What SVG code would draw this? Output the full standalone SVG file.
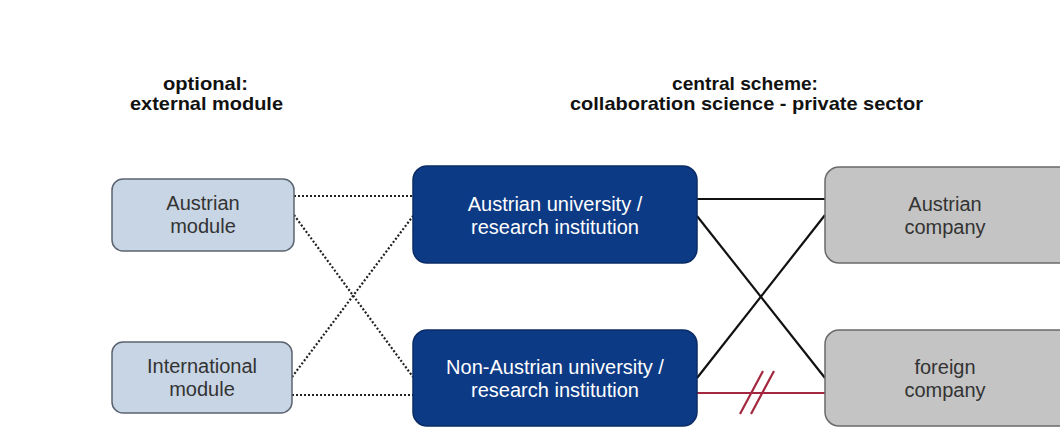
<svg xmlns="http://www.w3.org/2000/svg" width="1060" height="441" viewBox="0 0 1060 441">
<style>
.hdr{font-family:"Liberation Sans",Arial,sans-serif;font-weight:bold;font-size:18.5px;fill:#111;text-anchor:middle}
.lbl{font-family:"Liberation Sans",Arial,sans-serif;font-size:20px;fill:#333;text-anchor:middle}
.wlbl{font-family:"Liberation Sans",Arial,sans-serif;font-size:20px;fill:#fff;text-anchor:middle}
.mod{fill:#c8d5e4;stroke:#5b6470;stroke-width:1.5}
.uni{fill:#0d3a85;stroke:#0a2c66;stroke-width:1.5}
.comp{fill:#c4c4c4;stroke:#6a6a6a;stroke-width:1.5}
.dot{stroke:#222;stroke-width:2.2;stroke-dasharray:2 2;fill:none}
.sol{stroke:#111;stroke-width:2.2;fill:none}
.red{stroke:#a3283f;stroke-width:2.2;fill:none}
</style>
<rect width="1060" height="441" fill="#fff"/>
<g id="headers">
<text class="hdr" x="205.5" y="90" textLength="85" lengthAdjust="spacingAndGlyphs">optional:</text>
<text class="hdr" x="206.5" y="110" textLength="153" lengthAdjust="spacingAndGlyphs">external module</text>
<text class="hdr" x="745" y="90" textLength="146" lengthAdjust="spacingAndGlyphs">central scheme:</text>
<text class="hdr" x="746.5" y="110" textLength="353" lengthAdjust="spacingAndGlyphs">collaboration science - private sector</text>
</g>
<g id="connectors">
<line class="dot" x1="294" y1="196" x2="413" y2="196"/>
<line class="dot" x1="294" y1="215" x2="413" y2="377"/>
<line class="dot" x1="292" y1="377" x2="413" y2="216"/>
<line class="dot" x1="292" y1="395" x2="413" y2="395"/>
<line class="sol" x1="697" y1="199" x2="825" y2="199"/>
<line class="sol" x1="697" y1="216" x2="825" y2="378"/>
<line class="sol" x1="697" y1="378" x2="825" y2="215"/>
<line class="red" x1="697" y1="393" x2="825" y2="393"/>
<line class="red" x1="740" y1="414" x2="763" y2="371"/>
<line class="red" x1="751" y1="414" x2="774" y2="371"/>
</g>
<g id="austrian-module">
<rect class="mod" x="112" y="179" width="182" height="72" rx="11"/>
<text class="lbl" x="203" y="210">Austrian</text>
<text class="lbl" x="203" y="233">module</text>
</g>
<g id="international-module">
<rect class="mod" x="112" y="342" width="180" height="71" rx="11"/>
<text class="lbl" x="202" y="373">International</text>
<text class="lbl" x="202" y="396">module</text>
</g>
<g id="austrian-university">
<rect class="uni" x="413" y="166" width="284" height="97" rx="14"/>
<text class="wlbl" x="555" y="211">Austrian university /</text>
<text class="wlbl" x="555" y="234">research institution</text>
</g>
<g id="non-austrian-university">
<rect class="uni" x="413" y="330" width="284" height="96" rx="14"/>
<text class="wlbl" x="555" y="374">Non-Austrian university /</text>
<text class="wlbl" x="555" y="397">research institution</text>
</g>
<g id="austrian-company">
<rect class="comp" x="825" y="167" width="250" height="96" rx="14"/>
<text class="lbl" x="945" y="211">Austrian</text>
<text class="lbl" x="945" y="234">company</text>
</g>
<g id="foreign-company">
<rect class="comp" x="825" y="330" width="250" height="96" rx="14"/>
<text class="lbl" x="945" y="374">foreign</text>
<text class="lbl" x="945" y="397">company</text>
</g>
</svg>
